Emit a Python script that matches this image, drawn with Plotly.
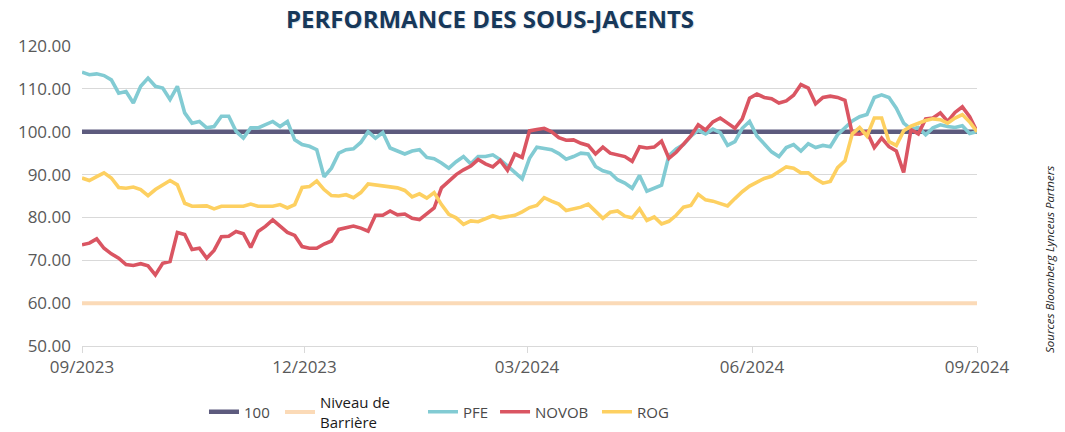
import pandas as pd
import plotly.graph_objects as go

# Date grid (every 3 days from 09/2023 to 09/2024)
start_date = "2023-09-01"
end_date = "2024-09-01"
dates = pd.date_range(start_date, end_date, freq="3D")

pfe = [113.9, 113.3, 113.5, 113.1, 112.1, 109.0, 109.4, 106.7, 110.6, 112.5,
       110.6, 110.2, 107.5, 110.6, 104.4, 102.0, 102.4, 100.9, 101.2, 103.6,
       103.6, 100.1, 98.5, 100.9, 100.9, 101.6, 102.4, 101.2, 102.4, 98.1,
       97.0, 96.6, 95.8, 89.5, 91.5, 95.0, 95.8, 96.0, 97.5, 100.0,
       98.5, 99.8, 96.2, 95.5, 94.8, 95.5, 95.8, 94.0, 93.7, 92.7,
       91.5, 93.0, 94.2, 92.5, 94.2, 94.2, 94.6, 93.5, 91.9, 90.5,
       89.0, 93.8, 96.4, 96.2, 95.8, 94.9, 93.6, 94.2, 95.0, 94.8,
       91.9, 90.9, 90.4, 88.8, 88.0, 86.8, 89.8, 86.1, 86.8, 87.5,
       94.4, 96.0, 97.0, 99.0, 100.3, 99.5, 100.6, 99.8, 96.8, 97.7,
       100.8, 102.4, 99.0, 97.0, 95.3, 94.2, 96.3, 97.0, 95.5, 97.2,
       96.3, 96.8, 96.5, 99.3, 101.0, 102.5, 103.5, 104.0, 108.0, 108.6,
       108.0, 105.5, 102.0, 100.6, 101.0, 99.3, 100.9, 101.6, 101.2, 101.0,
       101.4, 99.6, 100.0]

novob = [73.6, 74.0, 75.0, 72.8, 71.5, 70.5, 69.0, 68.8, 69.2, 68.7,
         66.6, 69.3, 69.7, 76.5, 76.0, 72.5, 72.8, 70.5, 72.3, 75.5,
         75.6, 76.7, 76.2, 73.0, 76.7, 77.9, 79.4, 77.9, 76.5, 75.8,
         73.2, 72.8, 72.8, 73.8, 74.5, 77.2, 77.5, 78.0, 77.5, 76.8,
         80.5, 80.5, 81.5, 80.6, 80.8, 79.8, 79.5, 80.8, 82.2, 86.9,
         88.4, 90.0, 91.1, 92.0, 93.5, 92.5, 91.8, 93.3, 91.0, 94.8,
         94.0, 100.2, 100.5, 100.8, 100.0, 98.6, 98.0, 98.1, 97.3, 96.8,
         94.8, 96.4, 95.0, 94.6, 94.2, 93.1, 96.5, 96.2, 96.4, 97.8,
         93.8, 95.2, 97.0, 99.0, 101.6, 100.4, 102.3, 103.2, 102.0, 100.8,
         103.0, 107.8, 108.8, 108.0, 107.7, 106.7, 107.2, 108.5, 111.0, 110.2,
         106.5, 108.0, 108.3, 108.0, 107.3, 99.5, 99.4, 100.0, 96.3, 98.5,
         96.5, 95.5, 90.5, 100.5, 99.5, 103.0, 103.2, 104.4, 102.4, 104.5,
         105.8, 103.5, 100.0]

rog = [89.2, 88.6, 89.5, 90.4, 89.2, 87.0, 86.8, 87.1, 86.5, 85.1,
       86.5, 87.6, 88.6, 87.6, 83.3, 82.6, 82.6, 82.7, 82.0, 82.6,
       82.6, 82.7, 82.6, 83.1, 82.6, 82.6, 82.6, 83.0, 82.2, 83.0,
       87.0, 87.2, 88.5, 86.5, 85.1, 85.0, 85.3, 84.6, 85.8, 87.8,
       87.6, 87.5, 87.2, 86.9, 86.3, 84.8, 85.5, 84.5, 85.8, 83.0,
       80.7, 79.9, 78.4, 79.2, 79.0, 79.8, 80.4, 79.9, 80.3, 80.5,
       81.3, 82.3, 82.8, 84.6, 83.8, 83.1, 81.6, 82.0, 82.4, 83.1,
       81.5, 79.8, 81.2, 81.5, 80.3, 79.9, 82.0, 79.3, 80.1, 78.5,
       79.1, 80.5, 82.4, 82.8, 85.4, 84.1, 83.8, 83.2, 82.7, 84.4,
       86.0, 87.3, 88.3, 89.1, 89.6, 90.6, 91.8, 91.5, 90.4, 90.4,
       89.0, 88.0, 88.4, 91.6, 93.2, 99.5, 101.0, 99.0, 103.2, 103.2,
       97.7, 96.8, 100.2, 101.3, 102.0, 102.6, 103.0, 102.8, 102.0, 103.2,
       104.0, 102.3, 100.0]

level_100 = 100.0
barrier_level = 60.0

tick_dates = ["2023-09-01", "2023-12-01", "2024-03-01", "2024-06-01", "2024-09-01"]
tick_labels = ["09/2023", "12/2023", "03/2024", "06/2024", "09/2024"]
y_ticks = [50, 60, 70, 80, 90, 100, 110, 120]

series_names = ["100", "Niveau de<br>Barrière", "PFE", "NOVOB", "ROG"]
colors = ["#5d5b7e", "#fbdab7", "#82cbd3", "#da5562", "#fdd061"]
legend_ids = ["legend", "legend2", "legend3", "legend4", "legend5"]
legend_x = [0.1363, 0.2212, 0.381, 0.4615, 0.5754]
legend_text_colors = ["#4a4a4a", "#1a1a1a", "#4a4a4a", "#4a4a4a", "#4a4a4a"]

n = len(dates)
series_values = [[level_100] * n, [barrier_level] * n, pfe, novob, rog]
widths = [4.5, 4, 3.6, 3.6, 3.6]

fig = go.Figure()
for name, vals, col, w, lg in zip(series_names, series_values, colors, widths, legend_ids):
    fig.add_trace(go.Scatter(x=dates, y=vals, mode="lines", name=name, legend=lg,
                             line=dict(color=col, width=w)))

font_family = "Open Sans, Noto Sans, sans-serif"

legend_common = dict(orientation="h", y=-0.22, yanchor="middle", xanchor="left",
                     bgcolor="rgba(0,0,0,0)", borderwidth=0, valign="middle")

layout_legends = {
    lg: dict(legend_common, x=lx, font=dict(size=15, color=tc, family=font_family))
    for lg, lx, tc in zip(legend_ids, legend_x, legend_text_colors)
}

fig.update_layout(
    width=1065, height=432,
    margin=dict(l=82, r=88, t=46, b=86, autoexpand=False),
    paper_bgcolor="white", plot_bgcolor="white",
    font=dict(family=font_family, color="#595959"),
    showlegend=True,
    xaxis=dict(
        type="date",
        range=[start_date, end_date],
        tickvals=tick_dates, ticktext=tick_labels,
        showgrid=False, zeroline=False,
        showline=True, linecolor="#d9d9d9", linewidth=1,
        ticks="outside", ticklen=6, tickcolor="#d9d9d9",
        tickfont=dict(size=17, color="#595959"),
    ),
    yaxis=dict(
        range=[50, 120], tickvals=y_ticks,
        tickformat=".2f",
        showgrid=True, gridcolor="#d9d9d9", gridwidth=1,
        zeroline=False, showline=False,
        ticks="", ticklabelstandoff=10,
        tickfont=dict(size=17, color="#595959"),
    ),
    **layout_legends,
)

# Title with a soft shadow
title_text = "PERFORMANCE DES SOUS-JACENTS"
fig.add_annotation(text="<b>" + title_text + "</b>", xref="paper", yref="paper",
                   x=0.456, y=1.0, yanchor="middle", yshift=27, xshift=1, showarrow=False,
                   borderpad=0,
                   font=dict(family=font_family, size=24, color="#dfe3e7"))
fig.add_annotation(text="<b>" + title_text + "</b>", xref="paper", yref="paper",
                   x=0.456, y=1.0, yanchor="middle", yshift=28, showarrow=False,
                   borderpad=0,
                   font=dict(family=font_family, size=24, color="#17385a"))

fig.add_annotation(text="<i>Sources Bloomberg Lynceus Partners</i>", xref="paper", yref="paper",
                   x=1.0816, y=0.287, yanchor="middle", xanchor="center", showarrow=False,
                   textangle=-90,
                   font=dict(family=font_family, size=11.5, color="#222222"))

# Remove the default page margin so the figure fills the window exactly
fig.write_html("out.html",
               config={"displayModeBar": False},
               post_script="document.body.style.margin='0px';document.body.style.overflow='hidden';")
